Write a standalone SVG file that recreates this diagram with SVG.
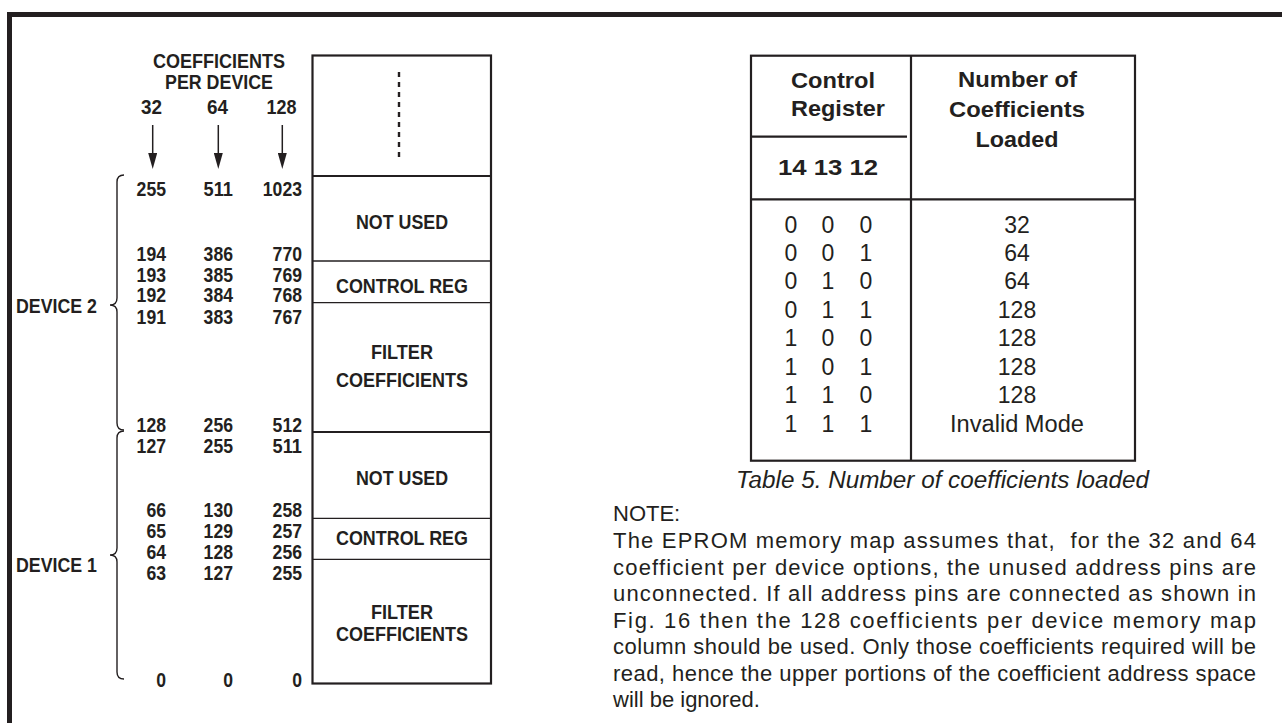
<svg xmlns="http://www.w3.org/2000/svg" width="1282" height="723" viewBox="0 0 1282 723">
<style>
text{fill:#231f20;font-family:"Liberation Sans",Arial,sans-serif}
.b{font-size:20px;font-weight:bold}
.e{text-anchor:end}
.m{text-anchor:middle}
.th{font-size:22px;font-weight:bold;text-anchor:middle}
.td{font-size:23px;text-anchor:middle}
.note{font-size:22px;white-space:pre}
.cap{font-size:23px;font-style:italic;text-anchor:middle}
.frame{stroke:#231f20;stroke-width:5;fill:none}
.thick{stroke:#231f20;stroke-width:2.2;fill:none}
.thin{stroke:#231f20;stroke-width:1.3;fill:none}
.brace{stroke:#231f20;stroke-width:1.4;fill:none}
.arrow{stroke:#231f20;stroke-width:1.5;fill:none}
</style>
<defs>
<marker id="ah" viewBox="0 0 16 9" refX="7" refY="4.5" markerWidth="16" markerHeight="9" markerUnits="userSpaceOnUse" orient="auto">
<path d="M0,0 L16,4.5 L0,9 Z" fill="#231f20"/>
</marker>
</defs>
<rect width="1282" height="723" fill="#fff"/>
<g id="frame">
<line class="frame" x1="9.5" y1="14.5" x2="1282" y2="14.5"/>
<line class="frame" x1="9.5" y1="12" x2="9.5" y2="723"/>
</g>
<g id="header">
<text class="b m" x="219" y="68.3" textLength="132" lengthAdjust="spacingAndGlyphs">COEFFICIENTS</text>
<text class="b m" x="219" y="89.3" textLength="108" lengthAdjust="spacingAndGlyphs">PER DEVICE</text>
<text class="b m" x="151.5" y="114" textLength="21" lengthAdjust="spacingAndGlyphs">32</text>
<text class="b m" x="217.5" y="114" textLength="21" lengthAdjust="spacingAndGlyphs">64</text>
<text class="b m" x="281.5" y="114" textLength="30" lengthAdjust="spacingAndGlyphs">128</text>
</g>
<g id="connectors">
<line class="arrow" x1="152.7" y1="125" x2="152.7" y2="160" marker-end="url(#ah)"/>
<line class="arrow" x1="218.3" y1="125" x2="218.3" y2="160" marker-end="url(#ah)"/>
<line class="arrow" x1="282.3" y1="125" x2="282.3" y2="160" marker-end="url(#ah)"/>
</g>
<g id="device2">
<path class="brace" d="M124 175 Q117 175 117 182 L117 298 Q117 305 110 305 Q117 305 117 312 L117 423 Q117 430 124 430"/>
<text class="b" x="16" y="313" textLength="81" lengthAdjust="spacingAndGlyphs">DEVICE 2</text>
</g>
<g id="device1">
<path class="brace" d="M124 431 Q117 431 117 438 L117 548 Q117 555 110 555 Q117 555 117 562 L117 672 Q117 679 124 679"/>
<text class="b" x="16" y="572" textLength="81" lengthAdjust="spacingAndGlyphs">DEVICE 1</text>
</g>
<g id="addresses">
<text class="b e" x="166" y="196" textLength="29.4" lengthAdjust="spacingAndGlyphs">255</text>
<text class="b e" x="233" y="196" textLength="29.4" lengthAdjust="spacingAndGlyphs">511</text>
<text class="b e" x="302" y="196" textLength="39.2" lengthAdjust="spacingAndGlyphs">1023</text>
<text class="b e" x="166" y="261" textLength="29.4" lengthAdjust="spacingAndGlyphs">194</text>
<text class="b e" x="233" y="261" textLength="29.4" lengthAdjust="spacingAndGlyphs">386</text>
<text class="b e" x="302" y="261" textLength="29.4" lengthAdjust="spacingAndGlyphs">770</text>
<text class="b e" x="166" y="281.7" textLength="29.4" lengthAdjust="spacingAndGlyphs">193</text>
<text class="b e" x="233" y="281.7" textLength="29.4" lengthAdjust="spacingAndGlyphs">385</text>
<text class="b e" x="302" y="281.7" textLength="29.4" lengthAdjust="spacingAndGlyphs">769</text>
<text class="b e" x="166" y="302.3" textLength="29.4" lengthAdjust="spacingAndGlyphs">192</text>
<text class="b e" x="233" y="302.3" textLength="29.4" lengthAdjust="spacingAndGlyphs">384</text>
<text class="b e" x="302" y="302.3" textLength="29.4" lengthAdjust="spacingAndGlyphs">768</text>
<text class="b e" x="166" y="323.5" textLength="29.4" lengthAdjust="spacingAndGlyphs">191</text>
<text class="b e" x="233" y="323.5" textLength="29.4" lengthAdjust="spacingAndGlyphs">383</text>
<text class="b e" x="302" y="323.5" textLength="29.4" lengthAdjust="spacingAndGlyphs">767</text>
<text class="b e" x="166" y="431.5" textLength="29.4" lengthAdjust="spacingAndGlyphs">128</text>
<text class="b e" x="233" y="431.5" textLength="29.4" lengthAdjust="spacingAndGlyphs">256</text>
<text class="b e" x="302" y="431.5" textLength="29.4" lengthAdjust="spacingAndGlyphs">512</text>
<text class="b e" x="166" y="452.5" textLength="29.4" lengthAdjust="spacingAndGlyphs">127</text>
<text class="b e" x="233" y="452.5" textLength="29.4" lengthAdjust="spacingAndGlyphs">255</text>
<text class="b e" x="302" y="452.5" textLength="29.4" lengthAdjust="spacingAndGlyphs">511</text>
<text class="b e" x="166" y="516.7" textLength="19.6" lengthAdjust="spacingAndGlyphs">66</text>
<text class="b e" x="233" y="516.7" textLength="29.4" lengthAdjust="spacingAndGlyphs">130</text>
<text class="b e" x="302" y="516.7" textLength="29.4" lengthAdjust="spacingAndGlyphs">258</text>
<text class="b e" x="166" y="537.5" textLength="19.6" lengthAdjust="spacingAndGlyphs">65</text>
<text class="b e" x="233" y="537.5" textLength="29.4" lengthAdjust="spacingAndGlyphs">129</text>
<text class="b e" x="302" y="537.5" textLength="29.4" lengthAdjust="spacingAndGlyphs">257</text>
<text class="b e" x="166" y="559" textLength="19.6" lengthAdjust="spacingAndGlyphs">64</text>
<text class="b e" x="233" y="559" textLength="29.4" lengthAdjust="spacingAndGlyphs">128</text>
<text class="b e" x="302" y="559" textLength="29.4" lengthAdjust="spacingAndGlyphs">256</text>
<text class="b e" x="166" y="580" textLength="19.6" lengthAdjust="spacingAndGlyphs">63</text>
<text class="b e" x="233" y="580" textLength="29.4" lengthAdjust="spacingAndGlyphs">127</text>
<text class="b e" x="302" y="580" textLength="29.4" lengthAdjust="spacingAndGlyphs">255</text>
<text class="b e" x="166" y="686.5" textLength="9.8" lengthAdjust="spacingAndGlyphs">0</text>
<text class="b e" x="233" y="686.5" textLength="9.8" lengthAdjust="spacingAndGlyphs">0</text>
<text class="b e" x="302" y="686.5" textLength="9.8" lengthAdjust="spacingAndGlyphs">0</text>
</g>
<g id="memory-map">
<rect class="thick" x="312.5" y="55.5" width="178.5" height="628"/>
<line class="thick" x1="312.5" y1="176" x2="491" y2="176"/>
<line class="thick" x1="312.5" y1="432" x2="491" y2="432"/>
<line class="thin" x1="312.5" y1="261" x2="491" y2="261"/>
<line class="thin" x1="312.5" y1="302.7" x2="491" y2="302.7"/>
<line class="thin" x1="312.5" y1="518.3" x2="491" y2="518.3"/>
<line class="thin" x1="312.5" y1="559.3" x2="491" y2="559.3"/>
<line x1="399" y1="72" x2="399" y2="162" stroke="#231f20" stroke-width="2.4" stroke-dasharray="5 5"/>
</g>
<g id="d2-not-used"><text class="b m" x="402" y="229" textLength="92" lengthAdjust="spacingAndGlyphs">NOT USED</text></g>
<g id="d2-control-reg"><text class="b m" x="402" y="292.5" textLength="132" lengthAdjust="spacingAndGlyphs">CONTROL REG</text></g>
<g id="d2-filter"><text class="b m" x="402" y="359" textLength="62" lengthAdjust="spacingAndGlyphs">FILTER</text><text class="b m" x="402" y="386.5" textLength="132" lengthAdjust="spacingAndGlyphs">COEFFICIENTS</text></g>
<g id="d1-not-used"><text class="b m" x="402" y="485" textLength="92" lengthAdjust="spacingAndGlyphs">NOT USED</text></g>
<g id="d1-control-reg"><text class="b m" x="402" y="545" textLength="132" lengthAdjust="spacingAndGlyphs">CONTROL REG</text></g>
<g id="d1-filter"><text class="b m" x="402" y="619" textLength="62" lengthAdjust="spacingAndGlyphs">FILTER</text><text class="b m" x="402" y="640.5" textLength="132" lengthAdjust="spacingAndGlyphs">COEFFICIENTS</text></g>
<g id="table">
<rect class="thick" x="751" y="55.7" width="384" height="405"/>
<line class="thick" x1="911" y1="55.7" x2="911" y2="460.7"/>
<line class="thick" x1="751" y1="136.7" x2="907" y2="136.7"/>
<line class="thick" x1="751" y1="199.3" x2="1135" y2="199.3"/>
<text class="th" x="833" y="87.7" textLength="84" lengthAdjust="spacingAndGlyphs">Control</text>
<text class="th" x="838" y="115.5" textLength="94" lengthAdjust="spacingAndGlyphs">Register</text>
<text class="th" x="828" y="175" textLength="100" lengthAdjust="spacingAndGlyphs">14 13 12</text>
<text class="th" x="1017.5" y="86.7" textLength="119" lengthAdjust="spacingAndGlyphs">Number of</text>
<text class="th" x="1017" y="116.5" textLength="136" lengthAdjust="spacingAndGlyphs">Coefficients</text>
<text class="th" x="1017" y="146.7" textLength="83" lengthAdjust="spacingAndGlyphs">Loaded</text>
<g class="td">
<text class="td" x="791" y="232.5">0</text><text class="td" x="828" y="232.5">0</text><text class="td" x="866" y="232.5">0</text><text class="td" x="1017" y="232.5">32</text>
<text class="td" x="791" y="261">0</text><text class="td" x="828" y="261">0</text><text class="td" x="866" y="261">1</text><text class="td" x="1017" y="261">64</text>
<text class="td" x="791" y="289.4">0</text><text class="td" x="828" y="289.4">1</text><text class="td" x="866" y="289.4">0</text><text class="td" x="1017" y="289.4">64</text>
<text class="td" x="791" y="317.9">0</text><text class="td" x="828" y="317.9">1</text><text class="td" x="866" y="317.9">1</text><text class="td" x="1017" y="317.9">128</text>
<text class="td" x="791" y="346.3">1</text><text class="td" x="828" y="346.3">0</text><text class="td" x="866" y="346.3">0</text><text class="td" x="1017" y="346.3">128</text>
<text class="td" x="791" y="374.8">1</text><text class="td" x="828" y="374.8">0</text><text class="td" x="866" y="374.8">1</text><text class="td" x="1017" y="374.8">128</text>
<text class="td" x="791" y="403.2">1</text><text class="td" x="828" y="403.2">1</text><text class="td" x="866" y="403.2">0</text><text class="td" x="1017" y="403.2">128</text>
<text class="td" x="791" y="431.7">1</text><text class="td" x="828" y="431.7">1</text><text class="td" x="866" y="431.7">1</text><text class="td" x="1017" y="431.7" textLength="134" lengthAdjust="spacingAndGlyphs">Invalid Mode</text>
</g>
</g>
<g id="caption"><text class="cap" x="942.5" y="487.5" textLength="413" lengthAdjust="spacingAndGlyphs">Table 5. Number of coefficients loaded</text></g>
<g id="note">
<text class="note" x="613" y="521">NOTE:</text>
<text class="note" x="613" y="548" textLength="643" lengthAdjust="spacing">The EPROM memory map assumes that,  for the 32 and 64</text>
<text class="note" x="613" y="574.5" textLength="643" lengthAdjust="spacing">coefficient per device options, the unused address pins are</text>
<text class="note" x="613" y="601" textLength="643" lengthAdjust="spacing">unconnected. If all address pins are connected as shown in</text>
<text class="note" x="613" y="627.5" textLength="643" lengthAdjust="spacing">Fig. 16 then the 128 coefficients per device memory map</text>
<text class="note" x="613" y="654" textLength="643" lengthAdjust="spacing">column should be used. Only those coefficients required will be</text>
<text class="note" x="613" y="680.5" textLength="643" lengthAdjust="spacing">read, hence the upper portions of the coefficient address space</text>
<text class="note" x="613" y="707">will be ignored.</text>
</g>
</svg>
